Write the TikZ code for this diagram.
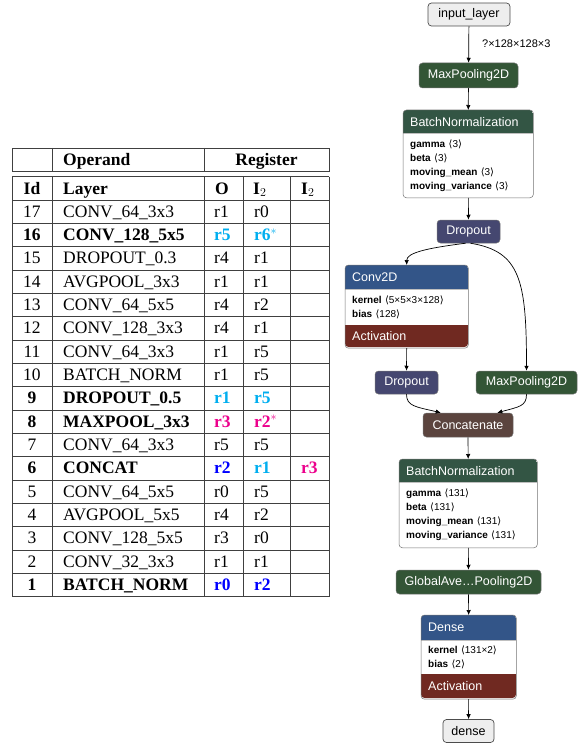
\documentclass[tikz,border=0pt]{standalone}
\usepackage{fontspec}
\usepackage{tikz}
\usetikzlibrary{arrows.meta,positioning}
\newfontfamily\gsans{Liberation Sans}
\newfontfamily\tserif{Liberation Serif}
\newfontfamily\djv{DejaVu Sans}
\definecolor{reg-cyan}{HTML}{00AEEF}
\definecolor{reg-magenta}{HTML}{EC008C}
\definecolor{reg-blue}{HTML}{0000FF}
\definecolor{nt-io}{HTML}{EEEEEE}
\definecolor{nt-pool}{HTML}{335536}
\definecolor{nt-norm}{HTML}{335544}
\definecolor{nt-drop}{HTML}{454770}
\definecolor{nt-layer}{HTML}{335588}
\definecolor{nt-act}{HTML}{702921}
\definecolor{nt-tensor}{HTML}{5B443E}
\newcommand{\cy}[1]{\textbf{\color{reg-cyan}#1}}
\newcommand{\mg}[1]{\textbf{\color{reg-magenta}#1}}
\newcommand{\bl}[1]{\textbf{\color{reg-blue}#1}}
\newcommand{\ang}[1]{{\djv ⟨}#1{\djv ⟩}}

\begin{document}
\begin{tikzpicture}[x=1pt, y=-1pt,
    grid/.style={draw=black!75, line width=0.8pt},
    cell/.style={anchor=base west, inner sep=0pt, font=\tserif\fontsize{17.5}{20}\selectfont},
    th/.style={cell, font=\tserif\fontsize{17.5}{20}\selectfont\bfseries},
    idcell/.style={cell, anchor=base},
    lay/.style={rounded corners=3.5pt, draw=black!55, line width=0.5pt, text=white,
        font=\gsans\fontsize{12.5}{14}\selectfont, inner sep=0pt},
    io/.style={lay, fill=nt-io, text=black, draw=black!70, line width=0.7pt},
    hdr/.style={anchor=north west, text=white, font=\gsans\fontsize{12.5}{14}\selectfont,
        inner xsep=7pt, inner ysep=0pt, align=left},
    attrs/.style={fill=white, text=black, font=\gsans\fontsize{10}{14}\selectfont,
        inner xsep=7pt, inner ysep=0pt, align=left},
    blk/.style={draw=black!55, line width=0.5pt, rounded corners=3.5pt},
    sep/.style={draw=black!25, line width=0.4pt},
    edge/.style={-{Latex[length=5pt,width=4.5pt]}, line width=0.7pt}]
  \useasboundingbox (0,0) rectangle (580,746);

  % register table
  \draw[grid] (12,148) rectangle (329,171);
  \foreach \x in {52,204} \draw[grid] (\x,148) -- (\x,171);
  \foreach \k in {0,...,18} \draw[grid] (12,176.67+23.33*\k) -- (329,176.67+23.33*\k);
  \foreach \x in {12,52,204,243,290,329} \draw[grid] (\x,176.67) -- (\x,596.67);

  \node[th] (hop) at (63,165.5) {Operand};
  \node[th, anchor=base] (hreg) at (266.5,165.5) {Register};
  \node[th, anchor=base] (hid) at (32,194) {Id};
  \node[th] (hly) at (63,194) {Layer};
  \node[th] (hro) at (215,194) {O};
  \node[th] (hra) at (253,194) {I$_2$};
  \node[th] (hrb) at (301,194) {I$_2$};

  \foreach \n/\lay/\o/\a/\b [count=\k] in {
      17/{CONV\_64\_3x3}/r1/r0/{},
      \textbf{16}/\textbf{CONV\_128\_5x5}/\cy{r5}/\cy{r6$^*$}/{},
      15/{DROPOUT\_0.3}/r4/r1/{},
      14/{AVGPOOL\_3x3}/r1/r1/{},
      13/{CONV\_64\_5x5}/r4/r2/{},
      12/{CONV\_128\_3x3}/r4/r1/{},
      11/{CONV\_64\_3x3}/r1/r5/{},
      10/{BATCH\_NORM}/r1/r5/{},
      \textbf{9}/\textbf{DROPOUT\_0.5}/\cy{r1}/\cy{r5}/{},
      \textbf{8}/\textbf{MAXPOOL\_3x3}/\mg{r3}/\mg{r2$^*$}/{},
      7/{CONV\_64\_3x3}/r5/r5/{},
      \textbf{6}/\textbf{CONCAT}/\bl{r2}/\cy{r1}/\mg{r3},
      5/{CONV\_64\_5x5}/r0/r5/{},
      4/{AVGPOOL\_5x5}/r4/r2/{},
      3/{CONV\_128\_5x5}/r3/r0/{},
      2/{CONV\_32\_3x3}/r1/r1/{},
      \textbf{1}/\textbf{BATCH\_NORM}/\bl{r0}/\bl{r2}/{}}{
    \pgfmathsetmacro{\yb}{176.67+23.33*(\k+0.5)+5.5}
    \node[idcell] (id\k) at (32,\yb) {\n};
    \node[cell] (ly\k) at (63,\yb) {\lay};
    \node[cell] (ro\k) at (214,\yb) {\o};
    \node[cell] (ra\k) at (254,\yb) {\a};
    \node[cell] (rb\k) at (301,\yb) {\b};
  }

  % model graph
  \node[io, minimum width=82pt, minimum height=23pt] (inl) at (469,14.5) {input\_layer};
  \node[lay, fill=nt-pool, minimum width=99pt, minimum height=25pt] (mp1) at (468.5,75.5) {MaxPooling2D};
  \node[anchor=west, inner sep=0pt, font=\gsans\fontsize{11}{13}\selectfont] (shp) at (482,44) {?×128×128×3};

  \begin{scope}
    \clip[rounded corners=3.5pt] (403,110) rectangle (533,197);
    \node[hdr, fill=nt-norm, text width=116pt, minimum height=23pt] (bnA) at (403,110) {BatchNormalization};
    \node[attrs, text width=116pt, minimum height=64pt, below=0pt of bnA] (bnAp)
      {\textbf{gamma} \ang{3}\\ \textbf{beta} \ang{3}\\ \textbf{moving\_mean} \ang{3}\\ \textbf{moving\_variance} \ang{3}};
  \end{scope}
  \draw[sep] (bnA.south west) -- (bnA.south east);
  \draw[blk] (bnA.north west) rectangle (bnAp.south east);

  \node[lay, fill=nt-drop, minimum width=63pt, minimum height=23pt] (dp1) at (468.5,231.5) {Dropout};

  \begin{scope}
    \clip[rounded corners=3.5pt] (345,265) rectangle (468,347);
    \node[hdr, fill=nt-layer, text width=109pt, minimum height=24pt] (cvA) at (345,265) {Conv2D};
    \node[attrs, text width=109pt, minimum height=35pt, below=0pt of cvA] (cvB)
      {\textbf{kernel} \ang{5×5×3×128}\\ \textbf{bias} \ang{128}};
    \node[hdr, fill=nt-act, text width=109pt, minimum height=23pt, below=0pt of cvB] (cvC) {Activation};
  \end{scope}
  \draw[sep] (cvA.south west) -- (cvA.south east);
  \draw[blk] (cvA.north west) rectangle (cvC.south east);

  \node[lay, fill=nt-drop, minimum width=63pt, minimum height=23pt] (dp2) at (406.5,382.5) {Dropout};
  \node[lay, fill=nt-pool, minimum width=101pt, minimum height=23pt] (mp2) at (526.5,382.5) {MaxPooling2D};
  \node[lay, fill=nt-tensor, minimum width=90pt, minimum height=24pt] (cat) at (468,425) {Concatenate};

  \begin{scope}
    \clip[rounded corners=3.5pt] (399,459) rectangle (537,547);
    \node[hdr, fill=nt-norm, text width=124pt, minimum height=23pt] (bnB) at (399,459) {BatchNormalization};
    \node[attrs, text width=124pt, minimum height=65pt, below=0pt of bnB] (bnBp)
      {\textbf{gamma} \ang{131}\\ \textbf{beta} \ang{131}\\ \textbf{moving\_mean} \ang{131}\\ \textbf{moving\_variance} \ang{131}};
  \end{scope}
  \draw[sep] (bnB.south west) -- (bnB.south east);
  \draw[blk] (bnB.north west) rectangle (bnBp.south east);

  \node[lay, fill=nt-pool, minimum width=145pt, minimum height=24pt] (gap) at (468.5,582) {GlobalAve…Pooling2D};

  \begin{scope}
    \clip[rounded corners=3.5pt] (421,615) rectangle (516,698);
    \node[hdr, fill=nt-layer, text width=81pt, minimum height=25pt] (dnA) at (421,615) {Dense};
    \node[attrs, text width=81pt, minimum height=33pt, below=0pt of dnA] (dnB)
      {\textbf{kernel} \ang{131×2}\\ \textbf{bias} \ang{2}};
    \node[hdr, fill=nt-act, text width=81pt, minimum height=25pt, below=0pt of dnB] (dnC) {Activation};
  \end{scope}
  \draw[sep] (dnA.south west) -- (dnA.south east);
  \draw[blk] (dnA.north west) rectangle (dnC.south east);

  \node[io, minimum width=51pt, minimum height=23pt] (outn) at (468.5,731) {dense};

  % connectors
  \draw[edge] (inl) -- (mp1);
  \draw[edge] (mp1) -- (bnA);
  \draw[edge] (bnAp) -- (dp1);
  \draw[edge] ([xshift=-3pt]dp1.south) .. controls +(-40,5) and +(0,-12) .. (cvA.north);
  \draw[edge] ([xshift=2pt]dp1.south) .. controls +(50,8) and +(0,-90) .. (mp2.north);
  \draw[edge] (cvC) -- (dp2);
  \draw[edge] (dp2.south) .. controls +(0,12) and +(-25,-6) .. ([xshift=18pt]cat.north west);
  \draw[edge] (mp2.south) .. controls +(0,12) and +(22,-6) .. ([xshift=-16pt]cat.north east);
  \draw[edge] (cat) -- (bnB);
  \draw[edge] (bnBp) -- (gap);
  \draw[edge] (gap) -- (dnA);
  \draw[edge] (dnC) -- (outn);
\end{tikzpicture}
\end{document}
